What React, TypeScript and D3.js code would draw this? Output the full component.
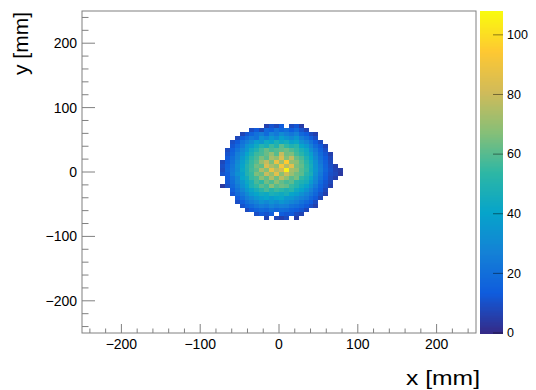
import React from 'react';
import * as d3 from 'd3';

// ---------- data ----------
const X_DOMAIN: [number, number] = [-250, 250];
const Y_DOMAIN: [number, number] = [-250, 250];
const Z_DOMAIN: [number, number] = [0, 108];
const BIN_WIDTH = 6.25;
const GRID_X0 = -75; // left edge of first column
const GRID_Y0 = 75; // top edge of first row
const X_TICKS = [-200, -100, 0, 100, 200];
const Y_TICKS = [-200, -100, 0, 100, 200];
const Z_TICKS = [0, 20, 40, 60, 80, 100];
const X_TITLE = 'x [mm]';
const Y_TITLE = 'y [mm]';

// bin contents, rows from top (y = 75) to bottom, columns from left (x = -75)
const COUNTS: number[][] = [
  [0, 0, 0, 0, 0, 0, 0, 0, 0, 6, 11, 8, 14, 0, 9, 12, 5, 0, 0, 0, 0, 0, 0, 0, 0],
  [0, 0, 0, 0, 0, 0, 9, 13, 8, 18, 15, 22, 17, 20, 14, 19, 11, 7, 0, 0, 0, 0, 0, 0, 0],
  [0, 0, 0, 0, 7, 12, 16, 21, 25, 19, 28, 24, 31, 26, 23, 27, 18, 14, 9, 6, 0, 0, 0, 0, 0],
  [0, 0, 0, 8, 14, 19, 24, 22, 33, 29, 36, 31, 39, 34, 30, 35, 26, 21, 15, 10, 0, 0, 0, 0, 0],
  [0, 0, 10, 13, 21, 26, 31, 38, 35, 44, 41, 48, 43, 46, 39, 42, 33, 28, 22, 14, 9, 0, 0, 0, 0],
  [0, 0, 12, 18, 24, 33, 37, 44, 51, 47, 56, 50, 61, 54, 49, 52, 41, 36, 27, 19, 13, 7, 0, 0, 0],
  [0, 9, 15, 22, 29, 35, 45, 50, 57, 63, 58, 60, 62, 64, 59, 55, 48, 43, 32, 24, 16, 10, 0, 0, 0],
  [0, 11, 17, 26, 32, 41, 48, 56, 58, 63, 70, 60, 79, 64, 66, 57, 52, 45, 38, 27, 19, 12, 6, 0, 0],
  [0, 13, 20, 27, 36, 44, 53, 58, 66, 61, 74, 70, 84, 67, 78, 63, 58, 49, 41, 30, 21, 14, 8, 0, 0],
  [8, 14, 21, 30, 38, 47, 55, 60, 70, 78, 66, 88, 72, 95, 70, 68, 60, 52, 44, 33, 23, 15, 9, 0, 0],
  [10, 16, 23, 32, 40, 50, 56, 64, 62, 83, 74, 69, 92, 76, 86, 66, 62, 54, 46, 34, 25, 16, 10, 6, 0],
  [9, 17, 24, 31, 42, 49, 57, 61, 74, 67, 88, 76, 81, 105, 73, 70, 60, 55, 45, 35, 26, 17, 11, 7, 5],
  [11, 15, 25, 33, 39, 50, 55, 66, 63, 79, 70, 86, 68, 80, 71, 64, 61, 52, 47, 33, 24, 15, 10, 8, 4],
  [0, 14, 22, 29, 41, 45, 55, 58, 68, 62, 75, 64, 77, 69, 61, 65, 54, 49, 42, 31, 22, 14, 9, 6, 0],
  [0, 12, 20, 28, 35, 43, 48, 58, 54, 64, 59, 68, 62, 58, 61, 52, 49, 46, 37, 28, 19, 12, 8, 0, 0],
  [4, 10, 18, 25, 33, 40, 49, 54, 61, 57, 68, 60, 64, 62, 55, 51, 45, 40, 32, 24, 16, 11, 6, 0, 0],
  [0, 0, 15, 22, 29, 36, 42, 47, 52, 58, 51, 56, 53, 49, 52, 44, 40, 34, 27, 20, 14, 8, 0, 0, 0],
  [0, 0, 12, 19, 24, 31, 37, 41, 45, 43, 48, 46, 44, 47, 41, 38, 33, 28, 23, 17, 11, 6, 0, 0, 0],
  [0, 0, 0, 14, 20, 26, 30, 35, 38, 41, 37, 40, 42, 36, 35, 31, 27, 24, 18, 13, 8, 0, 0, 0, 0],
  [0, 0, 0, 10, 15, 21, 25, 28, 33, 30, 34, 31, 35, 32, 29, 26, 22, 18, 14, 9, 0, 0, 0, 0, 0],
  [0, 0, 0, 0, 11, 16, 19, 23, 26, 24, 28, 25, 27, 26, 22, 20, 17, 13, 10, 6, 0, 0, 0, 0, 0],
  [0, 0, 0, 0, 0, 9, 13, 16, 19, 17, 21, 18, 20, 19, 16, 14, 12, 8, 0, 0, 0, 0, 0, 0, 0],
  [0, 0, 0, 0, 0, 0, 0, 10, 13, 11, 15, 0, 14, 12, 13, 9, 7, 0, 0, 0, 0, 0, 0, 0, 0],
  [0, 0, 0, 0, 0, 0, 0, 0, 0, 7, 0, 8, 6, 9, 0, 5, 0, 0, 0, 0, 0, 0, 0, 0, 0],
];

// ROOT kBird palette stops
const PAL_STOPS = [0, 0.125, 0.25, 0.375, 0.5, 0.625, 0.75, 0.875, 1];
const PAL_R = [0.2082, 0.0592, 0.078, 0.0232, 0.1802, 0.5301, 0.8186, 0.9956, 0.9764];
const PAL_G = [0.1664, 0.3599, 0.5041, 0.6419, 0.7178, 0.7492, 0.7328, 0.7862, 0.9832];
const PAL_B = [0.5293, 0.8684, 0.8385, 0.7914, 0.6425, 0.4662, 0.3499, 0.1968, 0.0539];

// ---------- layout ----------
const W = 536;
const H = 390;
const FRAME = { left: 82, right: 476, top: 11, bottom: 333 };
const BAR = { left: 480, right: 503 };
const FONT = '"Liberation Sans", Arial, Helvetica, sans-serif';
const AXIS_COLOR = '#808080';

export default function App() {
  const x = d3.scaleLinear().domain(X_DOMAIN).range([FRAME.left, FRAME.right]);
  const y = d3.scaleLinear().domain(Y_DOMAIN).range([FRAME.bottom, FRAME.top]);
  const z = d3.scaleLinear().domain(Z_DOMAIN).range([FRAME.bottom, FRAME.top]);

  const palColors = PAL_STOPS.map((_, i) =>
    d3.rgb(PAL_R[i] * 255, PAL_G[i] * 255, PAL_B[i] * 255).formatHex()
  );
  const pal = d3
    .scaleLinear<string>()
    .domain(PAL_STOPS.map((s) => Z_DOMAIN[0] + s * (Z_DOMAIN[1] - Z_DOMAIN[0])))
    .range(palColors)
    .interpolate(d3.interpolateRgb)
    .clamp(true);

  const cells: { x0: number; x1: number; y0: number; y1: number; v: number }[] = [];
  COUNTS.forEach((row, r) => {
    row.forEach((v, c) => {
      if (v <= 0) return;
      const xl = GRID_X0 + c * BIN_WIDTH;
      const yt = GRID_Y0 - r * BIN_WIDTH;
      cells.push({ x0: xl, x1: xl + BIN_WIDTH, y0: yt - BIN_WIDTH, y1: yt, v });
    });
  });

  const xMinorTicks = d3.range(-240, 241, 20).filter((d) => d % 100 !== 0);
  const yMinorTicks = d3.range(-240, 241, 20).filter((d) => d % 100 !== 0);

  const nBands = 255;
  const bands = d3.range(nBands).map((i) => {
    const v0 = Z_DOMAIN[0] + (i / nBands) * (Z_DOMAIN[1] - Z_DOMAIN[0]);
    const v1 = Z_DOMAIN[0] + ((i + 1) / nBands) * (Z_DOMAIN[1] - Z_DOMAIN[0]);
    return { v0, v1, c: pal((v0 + v1) / 2) };
  });

  const fmt = (t: number) => (t < 0 ? '\u2212' + Math.abs(t) : String(t));

  return (
    <svg
      width={W}
      height={H}
      style={{ position: 'absolute', left: 0, top: 0, background: '#fff' }}
      fontFamily={FONT}
    >
      <rect x={0} y={0} width={W} height={H} fill="#fff" />
      {/* cells */}
      <g shapeRendering="crispEdges">
        {cells.map((d, i) => (
          <rect
            key={i}
            x={x(d.x0)}
            y={y(d.y1)}
            width={x(d.x1) - x(d.x0)}
            height={y(d.y0) - y(d.y1)}
            fill={pal(d.v)}
          />
        ))}
      </g>
      {/* frame */}
      <rect
        x={FRAME.left}
        y={FRAME.top}
        width={FRAME.right - FRAME.left}
        height={FRAME.bottom - FRAME.top}
        fill="none"
        stroke={AXIS_COLOR}
        strokeWidth={1}
      />
      {/* ticks */}
      <g stroke={AXIS_COLOR} strokeWidth={1}>
        {X_TICKS.map((t) => (
          <line key={'xM' + t} x1={x(t)} x2={x(t)} y1={FRAME.bottom} y2={FRAME.bottom - 9} />
        ))}
        {xMinorTicks.map((t) => (
          <line key={'xm' + t} x1={x(t)} x2={x(t)} y1={FRAME.bottom} y2={FRAME.bottom - 4.5} />
        ))}
        {Y_TICKS.map((t) => (
          <line key={'yM' + t} x1={FRAME.left} x2={FRAME.left + 13} y1={y(t)} y2={y(t)} />
        ))}
        {yMinorTicks.map((t) => (
          <line key={'ym' + t} x1={FRAME.left} x2={FRAME.left + 6.5} y1={y(t)} y2={y(t)} />
        ))}
      </g>
      {/* tick labels */}
      <g fontSize={14} fill="#000">
        {X_TICKS.map((t) => (
          <text key={'xl' + t} x={x(t)} y={349} textAnchor="middle">
            {fmt(t)}
          </text>
        ))}
        {Y_TICKS.map((t) => (
          <text key={'yl' + t} x={77} y={y(t)} dy="0.35em" textAnchor="end">
            {fmt(t)}
          </text>
        ))}
      </g>
      {/* axis titles */}
      <text
        x={406}
        y={385}
        textAnchor="start"
        fontSize={21}
        fill="#000"
        textLength={74}
        lengthAdjust="spacingAndGlyphs"
      >
        {X_TITLE}
      </text>
      <text transform={`translate(28, 12) rotate(-90)`} textAnchor="end" fontSize={21} fill="#000">
        {Y_TITLE}
      </text>
      {/* color bar */}
      <g shapeRendering="crispEdges">
        {bands.map((b, i) => (
          <rect
            key={i}
            x={BAR.left}
            y={z(b.v1)}
            width={BAR.right - BAR.left}
            height={z(b.v0) - z(b.v1) + 0.5}
            fill={b.c}
          />
        ))}
      </g>
      <g stroke="#000" strokeOpacity={0.45} strokeWidth={1}>
        {Z_TICKS.map((t) => (
          <line key={'zt' + t} x1={BAR.right - 10} x2={BAR.right} y1={z(t)} y2={z(t)} />
        ))}
      </g>
      <g fontSize={12.5} fill="#000">
        {Z_TICKS.map((t) => (
          <text key={'zl' + t} x={507} y={z(t)} dy="0.35em" textAnchor="start">
            {String(t)}
          </text>
        ))}
      </g>
    </svg>
  );
}
